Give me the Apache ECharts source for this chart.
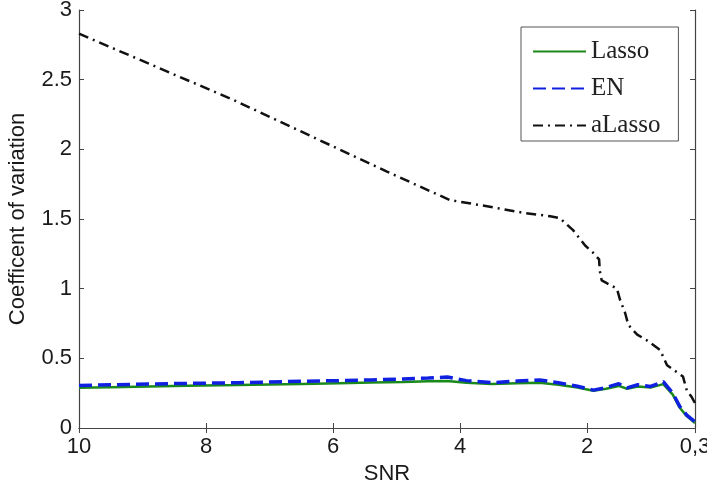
<!DOCTYPE html>
<html>
<head>
<meta charset="utf-8">
<script src="https://cdn.jsdelivr.net/npm/echarts@6/dist/echarts.min.js"></script>
<style>
html,body{margin:0;padding:0;background:#fff;}
#chart{width:707px;height:490px;}
</style>
</head>
<body>
<div id="chart"></div>
<script>
// SNR grid shared by Lasso and EN
var snrGrid = [10, 9.5, 8.9, 8.3, 7.5, 7.0, 6.5, 5.9, 5.4, 4.9, 4.5, 4.2, 3.9, 3.5, 3.1, 2.75, 2.45, 2.15, 1.9, 1.7, 1.5, 1.37, 1.2, 1.0, 0.8, 0.65, 0.54, 0.43, 0.3];
var lassoValues = [0.288, 0.293, 0.298, 0.303, 0.308, 0.312, 0.316, 0.322, 0.326, 0.33, 0.336, 0.338, 0.325, 0.316, 0.322, 0.325, 0.31, 0.29, 0.268, 0.282, 0.302, 0.282, 0.298, 0.29, 0.315, 0.24, 0.145, 0.085, 0.035];
var enValues = [0.305, 0.31, 0.316, 0.32, 0.325, 0.33, 0.335, 0.34, 0.345, 0.352, 0.358, 0.366, 0.34, 0.325, 0.337, 0.345, 0.325, 0.30, 0.272, 0.29, 0.318, 0.288, 0.31, 0.298, 0.332, 0.25, 0.155, 0.093, 0.045];
// aLasso
var snrALasso = [10, 7.57, 5.15, 4.16, 3.53, 3.01, 2.58, 2.43, 2.22, 2.03, 1.91, 1.81, 1.80, 1.77, 1.69, 1.53, 1.48, 1.40, 1.35, 1.21, 1.06, 0.85, 0.74, 0.49, 0.43, 0.35, 0.30];
var aLassoValues = [2.83, 2.355, 1.84, 1.636, 1.588, 1.545, 1.52, 1.507, 1.42, 1.31, 1.26, 1.21, 1.13, 1.06, 1.04, 1.00, 0.92, 0.825, 0.74, 0.67, 0.63, 0.56, 0.45, 0.37, 0.27, 0.22, 0.18];
// ticks
var xTicks = [10, 8, 6, 4, 2, 0.3];
var xTickLabels = ['10', '8', '6', '4', '2', '0,3'];
var seriesNames = ['Lasso', 'EN', 'aLasso'];

function pairs(xs, ys) { return xs.map(function (x, i) { return [x, ys[i]]; }); }

var axisColor = '#444';
var labelFont = { fontFamily: 'Liberation Sans', fontSize: 22, color: '#1a1a1a' };

var chart = echarts.init(document.getElementById('chart'), null, { renderer: 'canvas' });
chart.setOption({
  backgroundColor: '#fff',
  animation: false,
  grid: { left: 79, right: 12, top: 10, bottom: 62, outerBoundsMode: 'none', containLabel: false },
  legend: {
    orient: 'vertical',
    left: 521, top: 27,
    data: seriesNames,
    itemWidth: 53, itemHeight: 20, itemGap: 12,
    padding: [12, 18, 3, 11],
    backgroundColor: '#fff',
    borderColor: '#555', borderWidth: 1,
    itemStyle: { opacity: 0, borderWidth: 0 },
    textStyle: { fontFamily: 'Liberation Serif', fontSize: 25, color: '#222' }
  },
  xAxis: [{
    type: 'value', inverse: true, min: 0.3, max: 10,
    name: 'SNR', nameLocation: 'middle', nameGap: 34,
    nameTextStyle: { fontFamily: 'Liberation Sans', fontSize: 22, color: '#1a1a1a' },
    axisLine: { lineStyle: { color: axisColor, width: 1.2 } },
    axisTick: { inside: true, length: 5, customValues: xTicks, lineStyle: { color: axisColor } },
    axisLabel: Object.assign({ margin: 8, customValues: xTicks,
      formatter: function (v) { var i = xTicks.indexOf(v); return i >= 0 ? xTickLabels[i] : ''; } }, labelFont),
    splitLine: { show: false }
  }, {
    type: 'value', inverse: true, min: 0.3, max: 10, position: 'top',
    axisLine: { lineStyle: { color: axisColor, width: 1.2 } },
    axisTick: { inside: true, length: 5, customValues: xTicks, lineStyle: { color: axisColor } },
    axisLabel: { show: false },
    splitLine: { show: false }
  }],
  yAxis: [{
    type: 'value', min: 0, max: 3, interval: 0.5,
    name: 'Coefficent of variation', nameLocation: 'middle', nameGap: 50,
    nameTextStyle: { fontFamily: 'Liberation Sans', fontSize: 22, color: '#1a1a1a' },
    axisLine: { show: true, lineStyle: { color: axisColor, width: 1.2 } },
    axisTick: { show: true, inside: true, length: 5, lineStyle: { color: axisColor } },
    axisLabel: Object.assign({ margin: 7 }, labelFont),
    splitLine: { show: false }
  }, {
    type: 'value', min: 0, max: 3, interval: 0.5, position: 'right',
    axisLine: { show: true, lineStyle: { color: axisColor, width: 1.2 } },
    axisTick: { show: true, inside: true, length: 5, lineStyle: { color: axisColor } },
    axisLabel: { show: false },
    splitLine: { show: false }
  }],
  series: [{
    name: seriesNames[0], type: 'line', symbol: 'none', xAxisIndex: 0, yAxisIndex: 0,
    data: pairs(snrGrid, lassoValues),
    lineStyle: { color: '#1a8a1a', width: 2.5, type: 'solid' },
    itemStyle: { color: '#1a8a1a' }
  }, {
    name: seriesNames[1], type: 'line', symbol: 'none', xAxisIndex: 0, yAxisIndex: 0,
    data: pairs(snrGrid, enValues),
    lineStyle: { color: '#1020e0', width: 3.5, type: [13, 6] },
    itemStyle: { color: '#1020e0' }
  }, {
    name: seriesNames[2], type: 'line', symbol: 'none', xAxisIndex: 0, yAxisIndex: 0,
    data: pairs(snrALasso, aLassoValues),
    lineStyle: { color: '#111', width: 2.5, type: [10, 5, 2, 5] },
    itemStyle: { color: '#111' }
  }]
});
</script>
</body>
</html>
